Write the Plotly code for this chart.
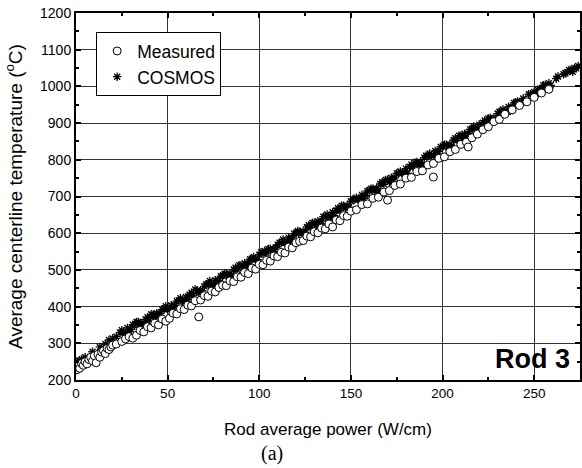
import plotly.graph_objects as go

# ---- data ----
cosmos_x = [0.5, 1, 2, 3, 5, 9, 13, 16, 18, 20, 22,
            24, 26, 28, 30, 32, 34, 36, 38, 40, 42, 44, 46, 48, 50,
            52, 54, 56, 58, 60, 62, 64, 66, 68, 70, 72, 74, 76, 78, 80,
            82, 84, 86, 88, 90, 92, 94, 96, 98, 100, 102, 104, 106, 108, 110,
            112, 114, 116, 118, 120, 122, 124, 126, 128, 130, 132, 134, 136, 138, 140,
            142, 144, 146, 148, 150, 152, 154, 156, 158, 160, 162, 164, 166, 168, 170,
            172, 174, 176, 178, 180, 182, 184, 186, 188, 190, 192, 194, 196, 198, 200,
            202, 204, 206, 208, 210, 212, 214, 216, 218, 220, 222, 224, 226, 228, 230,
            232, 234, 236, 238, 240, 244, 248, 250, 252, 254, 256, 258, 262, 266, 268, 270, 272, 274,
            25, 29, 33, 37, 41, 45, 49, 53, 57, 61, 65, 69, 73, 77, 81, 85, 89, 93, 97,
            101, 105, 109, 113, 117, 121, 125, 129, 133, 137, 141, 145, 149, 153, 157, 161,
            165, 169, 173, 177, 181, 185, 189, 193, 197, 201, 205, 209, 213, 217, 221, 225,
            229, 233, 237, 241, 249, 253, 257, 267, 271, 273,
            27, 31, 35, 39, 43, 47, 51, 55, 59, 63, 67, 71, 75, 79, 83, 87, 91, 95, 99,
            103, 107, 111, 115, 119, 123, 127, 131, 135, 139, 143, 147, 151, 155, 159, 163,
            167, 171, 175, 179, 183, 187, 191, 195, 199, 203, 207, 211, 215, 219, 223, 227,
            231, 235, 239, 243, 247, 251, 255, 259, 263, 269]
cosmos_y = [250, 246, 253, 256, 262, 277, 290, 298, 309, 313, 318,
            329, 329, 342, 338, 348, 358, 355, 365, 363, 377, 382, 381, 394, 393,
            404, 403, 417, 415, 426, 433, 431, 444, 443, 455, 461, 460, 472, 471, 484,
            489, 490, 501, 500, 512, 518, 517, 530, 528, 541, 546, 545, 558, 556, 569,
            574, 574, 588, 587, 600, 604, 604, 617, 615, 628, 633, 633, 645, 644, 657,
            662, 662, 675, 674, 687, 692, 692, 704, 703, 716, 721, 721, 734, 733, 746,
            751, 751, 764, 763, 776, 781, 781, 794, 793, 806, 811, 811, 824, 823, 836,
            841, 841, 854, 853, 866, 871, 871, 884, 883, 896, 901, 901, 914, 913, 926,
            931, 931, 944, 943, 956, 967, 979, 985, 991, 990, 1004, 1009, 1021, 1033, 1039, 1045, 1050, 1056,
            336, 332, 358, 354, 379, 376, 401, 398, 423, 420, 447, 443, 470, 465, 490, 487, 513, 508, 535,
            548, 557, 561, 583, 578, 606, 602, 628, 625, 651, 648, 675, 670, 697, 694, 721,
            716, 745, 740, 768, 763, 792, 786, 817, 812, 841, 835, 866, 861, 891, 885, 913,
            909, 937, 933, 959, 974, 993, 999, 1036, 1040, 1049,
            328, 351, 351, 371, 369, 392, 392, 415, 414, 438, 437, 461, 460, 483, 483, 506, 506, 529, 528,
            552, 551, 574, 574, 599, 598, 622, 621, 645, 644, 668, 668, 692, 692, 715, 715,
            739, 739, 763, 763, 787, 787, 811, 811, 835, 835, 859, 859, 883, 883, 907, 907,
            931, 931, 955, 955, 979, 979, 1003, 1003, 1027, 1045]

meas_x = [0.5, 1.5, 2, 3, 4, 5, 6, 7, 8, 9, 10, 11, 12, 13, 14, 15, 16, 17, 18, 19, 20, 22,
          25, 27, 29, 31, 33, 35, 37, 39, 41, 43, 45, 47, 49, 51, 53, 55, 57, 59, 61, 63, 65, 67,
          68, 70, 72, 74, 76, 78, 80, 82, 84, 86, 88, 90, 92, 94, 96, 98, 100, 102, 104, 106,
          108, 110, 112, 114, 116, 118, 120, 122, 124, 126, 128, 130, 132, 134, 136, 138, 140,
          142, 144, 146, 148, 150, 153, 156, 159, 162, 165, 168, 170, 171, 174, 177, 180, 183,
          186, 189, 192, 195, 195, 198, 201, 204, 207, 210, 213, 214, 216, 219, 222, 225, 228,
          231, 234, 238, 242, 246, 250, 254, 258]
meas_y = [228, 238, 232, 245, 240, 250, 244, 256, 262, 252, 266, 247, 270, 262, 276, 280, 272, 286, 283, 290, 295, 298,
          305, 312, 318, 314, 322, 335, 331, 345, 342, 355, 350, 366, 360, 368, 382, 380, 394, 392, 404, 402, 416, 372,
          418, 430, 428, 442, 440, 452, 458, 457, 470, 468, 481, 480, 493, 490, 505, 502, 515, 514, 526, 524,
          538, 536, 548, 546, 562, 560, 574, 578, 580, 592, 590, 604, 601, 614, 612, 625, 617,
          636, 634, 648, 646, 660, 664, 678, 680, 695, 698, 712, 690, 716, 730, 734, 750, 752,
          768, 770, 786, 753, 790, 804, 808, 822, 828, 842, 848, 835, 860, 870, 882, 890, 904,
          910, 924, 936, 948, 958, 970, 982, 992]

x_ticks = [0, 50, 100, 150, 200, 250]
y_ticks = [200, 300, 400, 500, 600, 700, 800, 900, 1000, 1100, 1200]

SANS = "Liberation Sans, Arial, sans-serif"

fig = go.Figure()
fig.add_trace(go.Scatter(
    x=cosmos_x, y=cosmos_y, mode="markers", name="COSMOS",
    marker=dict(symbol="asterisk-open", size=7, color="black",
                line=dict(color="black", width=1.3)),
))
fig.add_trace(go.Scatter(
    x=meas_x, y=meas_y, mode="markers", name="Measured",
    marker=dict(symbol="circle", size=8, color="white",
                line=dict(color="black", width=1)),
))

axis_common = dict(
    showline=True, linecolor="black", linewidth=2, mirror="ticks",
    ticks="inside", ticklen=5, tickwidth=1.5, tickcolor="black",
    showgrid=True, gridcolor="#333333", gridwidth=1,
    zeroline=False,
)

fig.update_xaxes(
    range=[0, 275], tickvals=x_ticks,
    tickfont=dict(family=SANS, size=13.5, color="black"),
    minor=dict(dtick=25, tick0=0, ticks="inside", ticklen=3, tickcolor="black", showgrid=False),
    title=dict(text="Rod average power (W/cm)", standoff=23,
               font=dict(family=SANS, size=17, color="black")),
    **axis_common,
)
fig.update_yaxes(
    range=[200, 1200], tickvals=y_ticks,
    tickfont=dict(family=SANS, size=14, color="black"),
    minor=dict(dtick=50, tick0=200, ticks="inside", ticklen=3, tickcolor="black", showgrid=False),
    title=dict(text="Average centerline temperature (<sup>o</sup>C)", standoff=12,
               font=dict(family=SANS, size=19, color="black")),
    **axis_common,
)

fig.update_layout(
    width=582, height=468,
    margin=dict(l=76, r=2, t=13, b=88, autoexpand=False),
    paper_bgcolor="white", plot_bgcolor="white",
    showlegend=True,
    legend=dict(
        x=0.04, y=0.948, xanchor="left", yanchor="top",
        bgcolor="white", bordercolor="black", borderwidth=1,
        font=dict(family=SANS, size=17.5, color="black"),
        traceorder="reversed",
        tracegroupgap=0,
    ),
    annotations=[
        dict(text="<b>Rod 3</b>", xref="paper", yref="y", x=0.985, y=257,
             xanchor="right", yanchor="middle", showarrow=False,
             font=dict(family=SANS, size=27, color="black")),
        dict(text="(a)", xref="paper", yref="paper", x=0.389, y=-0.2016,
             xanchor="center", yanchor="middle", showarrow=False,
             font=dict(family="Liberation Serif, Times New Roman, serif", size=20, color="black")),
    ],
)

fig.write_html("out.html")
